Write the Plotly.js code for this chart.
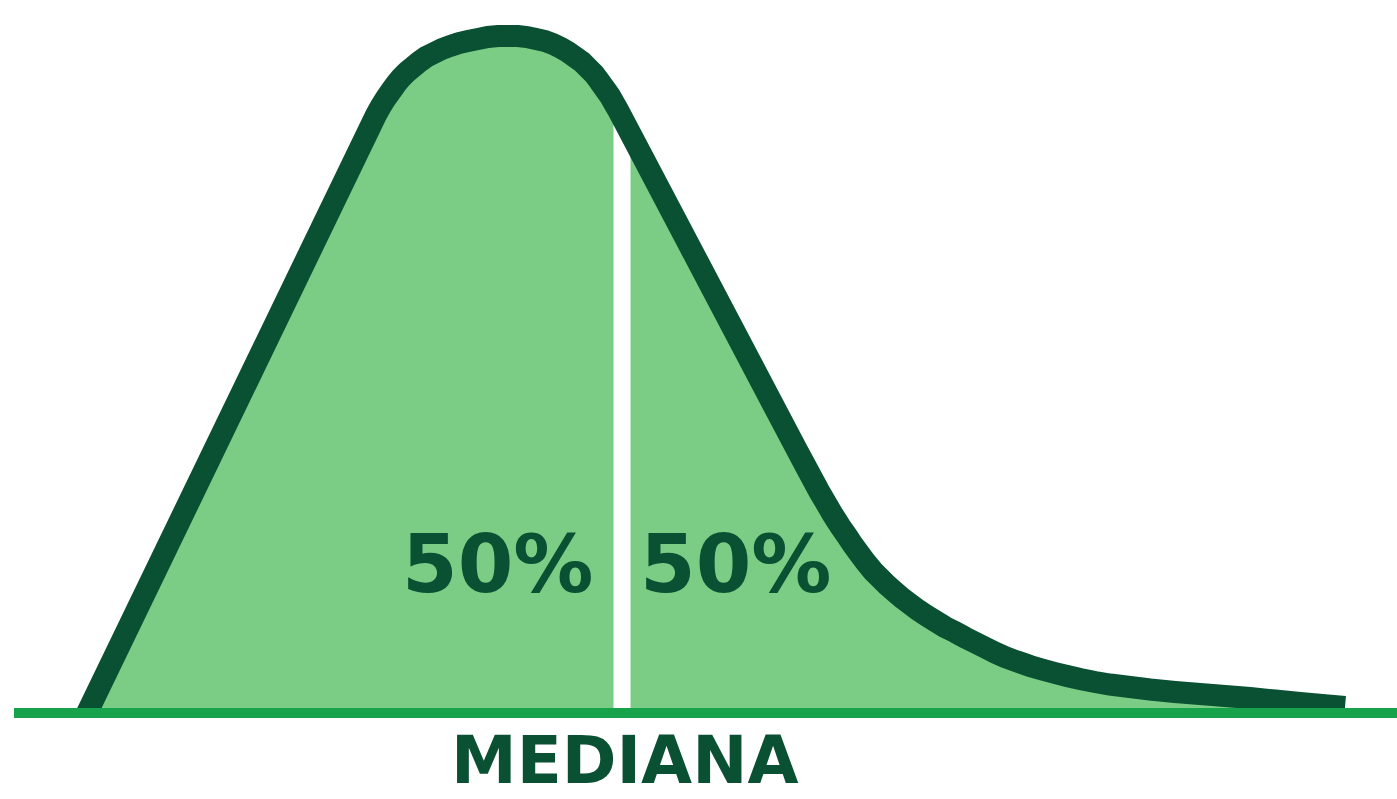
<!DOCTYPE html>
<html>
<head>
<meta charset="utf-8">
<script src="https://cdn.plot.ly/plotly-3.0.1.min.js"></script>
<style>
html,body{margin:0;padding:0;background:#ffffff;}
#chart{width:1397px;height:799px;}
</style>
</head>
<body>
<div id="chart"></div>
<script>
// Skewed distribution curve (x position, density height above baseline)
const curveX = [87, 376, 381, 386, 391, 396, 401, 407, 413, 419, 426, 434, 442, 450, 459, 468, 478, 488, 498, 508, 518, 527, 536, 545, 553, 561, 568, 575, 582, 588, 594, 600, 605, 610, 614, 618,
  797, 805, 812, 819, 826, 833, 840, 847, 853, 860, 866, 873, 880, 887, 895, 902, 910, 918, 927, 936, 945, 955, 965, 975, 985, 995, 1005, 1017, 1030, 1042, 1055, 1067, 1080, 1095, 1110, 1130, 1150, 1175, 1200, 1225, 1250, 1275, 1300, 1322, 1345];
const curveY = [0, 598, 607, 615, 622, 629, 635, 641, 646, 651, 656, 660, 664, 667, 670, 672, 674, 676, 677, 677, 677, 676, 674, 672, 669, 665, 661, 656, 651, 645, 639, 631, 624, 617, 610, 603,
  263, 248, 235, 222, 210, 198, 187, 177, 168, 158.5, 150.5, 142, 135, 128, 121, 115, 109, 103, 97, 91.5, 86, 81, 75.5, 70.5, 65.5, 60.5, 56, 51.5, 47, 43.5, 40, 37, 34, 31, 28.5, 26, 23.5, 21, 19, 17, 15, 12.5, 10, 8, 6];
const medianX = 622;
const axisX = [14, 1397];
const leftLabel = "50%";
const rightLabel = "50%";
const medianLabel = "MEDIANA";

function interp(x) {
  for (let i = 0; i < curveX.length - 1; i++) {
    if (x >= curveX[i] && x <= curveX[i + 1]) {
      const t = (x - curveX[i]) / (curveX[i + 1] - curveX[i]);
      return curveY[i] + t * (curveY[i + 1] - curveY[i]);
    }
  }
  return 0;
}
const medianY = interp(medianX);

const dark = "#0a5032";
const fillCol = "#7bcd85";
const base = "#16a34b";
const font = "'DejaVu Sans', sans-serif";

const traces = [
  { x: curveX, y: curveY, mode: "lines", fill: "tozeroy", fillcolor: fillCol,
    line: { width: 0, color: fillCol, simplify: false }, hoverinfo: "skip" },
  { x: [medianX, medianX], y: [0, medianY], mode: "lines",
    line: { width: 17, color: "#ffffff" }, hoverinfo: "skip" },
  { x: curveX, y: curveY, mode: "lines",
    line: { width: 22, color: dark, simplify: false }, hoverinfo: "skip" },
  { x: axisX, y: [0, 0], mode: "lines",
    line: { width: 10, color: base }, hoverinfo: "skip" }
];

const layout = {
  width: 1397, height: 799,
  margin: { l: 0, r: 0, t: 0, b: 0 },
  paper_bgcolor: "#ffffff", plot_bgcolor: "#ffffff",
  showlegend: false,
  xaxis: { range: [0, 1397], visible: false, fixedrange: true },
  yaxis: { range: [-86, 713], visible: false, fixedrange: true },
  annotations: [
    { x: medianX - 27, y: 149, xref: "x", yref: "y", xanchor: "right", yanchor: "middle",
      text: leftLabel, showarrow: false,
      font: { family: font, size: 80, color: dark, weight: 700 } },
    { x: medianX + 16, y: 149, xref: "x", yref: "y", xanchor: "left", yanchor: "middle",
      text: rightLabel, showarrow: false,
      font: { family: font, size: 80, color: dark, weight: 700 } },
    { x: medianX + 3, y: -47, xref: "x", yref: "y", xanchor: "center", yanchor: "middle",
      text: medianLabel, showarrow: false,
      font: { family: font, size: 66, color: dark, weight: 700 } }
  ]
};

Plotly.newPlot("chart", traces, layout, { staticPlot: true, displayModeBar: false });
</script>
</body>
</html>
